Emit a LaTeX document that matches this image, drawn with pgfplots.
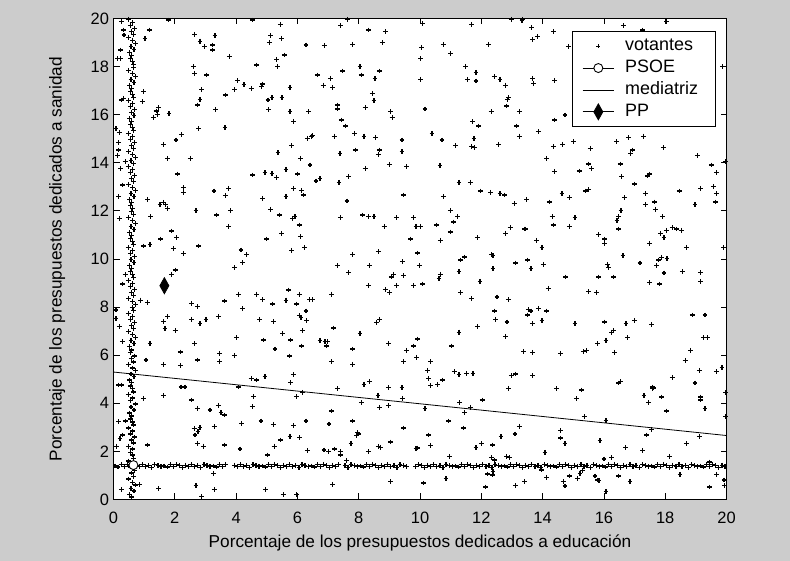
\documentclass[border=0pt]{standalone}
\usepackage{pgfplots}
\pgfplotsset{compat=1.18}
\usepackage{fontspec}
\setmainfont{Liberation Sans}
\definecolor{figgray}{RGB}{204,204,204}
\pgfplotsset{
  legvot/.style={legend image code/.code={\draw[##1] plot[mark=+, mark size=2bp] coordinates {(15.8bp,0bp)};}},
  legmark/.style={legend image code/.code={\draw[##1] plot[mark repeat=2, mark phase=2] coordinates {(0bp,0bp) (15.8bp,0bp) (31.6bp,0bp)};}},
  legline/.style={legend image code/.code={\draw[##1] (0bp,0bp) -- (31.6bp,0bp);}},
}
\begin{document}
\begin{tikzpicture}[font=\fontsize{16.5}{19}\selectfont]
\fill[figgray] (0,0) rectangle (790bp,561bp);
\begin{axis}[
  scale only axis,
  width=613bp, height=481bp,
  at={(113.5bp,61.5bp)}, anchor=south west,
  xmin=0, xmax=20, ymin=0, ymax=20,
  xtick={0,2,...,20}, ytick={0,2,...,20},
  tick align=inside, tick pos=both,
  major tick length=6bp,
  axis line style={line width=0.8bp},
  every tick/.style={black, line width=0.8bp},
  axis background/.style={fill=white},
  /pgf/number format/assume math mode=true,
  tick label style={font=\fontsize{16.5}{19}\selectfont},
  xticklabel style={yshift=-9bp},
  yticklabel style={xshift=-1bp},
  xlabel={Porcentaje de los presupuestos dedicados a educación},
  ylabel={Porcentaje de los presupuestos dedicados a sanidad},
  label style={font=\fontsize{17.3}{20}\selectfont},
  xlabel style={at={(axis description cs:0.5,-0.1008)}, anchor=base},
  ylabel style={at={(axis description cs:-0.0920,0.5)}, anchor=center},
  legend style={at={(axis description cs:0.7485,0.974)}, anchor=north west,
    draw=black, line width=0.8bp, fill=white, inner xsep=9.4bp, inner ysep=6.5bp,
    row sep=5.4bp, column sep=10.7bp,
    nodes={inner sep=0bp, text height=13bp, text depth=3.5bp},
    font=\fontsize{18}{21}\selectfont},
  legend cell align=left,
]
% votantes
\addplot[only marks, mark=+, mark size=2.4bp, line width=1.2bp, black, legvot]
coordinates {
(0.27,19.87)(0.32,19.52)(0.34,19.31)(0.23,18.69)(0.13,18.34)(0.23,18.34)(0.32,16.68)(0.27,16.61)
(0.08,15.43)(0.19,15.25)(0.16,14.84)(0.16,14.53)(0.13,14.30)(0.23,13.77)(0.38,14.05)
(1.17,19.52)(1.03,19.18)(1.79,19.94)(2.64,19.34)(2.82,19.06)(2.96,18.83)(3.24,18.90)(3.24,18.69)
(3.31,19.29)(3.78,18.41)(4.67,18.07)(2.60,18.00)(2.64,17.72)(3.04,17.65)(4.05,17.42)(3.96,17.05)
(4.26,17.24)(4.49,17.10)(4.86,17.28)(4.83,17.16)(5.04,16.61)(5.17,16.71)(5.50,16.71)(2.88,17.05)
(2.82,16.64)(2.74,16.40)(3.33,16.22)(3.65,16.82)(0.97,16.96)(0.94,16.54)(1.46,16.29)(1.39,16.15)
(1.43,16.01)(1.30,15.89)(1.81,16.05)(2.78,15.43)(3.64,15.47)(2.22,15.18)(2.04,14.95)(1.63,14.77)
(1.77,14.19)(2.50,14.19)(2.08,13.53)(4.54,13.49)(4.94,13.60)(5.17,13.56)(5.32,13.38)(5.63,13.73)
(6.01,13.53)(5.37,14.42)(5.82,14.71)(6.09,14.19)(6.41,13.91)(6.32,15.02)(6.48,15.12)(5.76,16.13)
(5.87,15.71)(6.36,16.13)(5.05,16.20)(5.13,19.29)(5.08,19.01)(5.49,19.18)(5.44,19.76)(5.57,18.48)
(5.32,18.30)(5.36,18.00)(5.76,17.14)(6.28,18.90)(4.53,19.94)
(7.63,19.97)(7.41,19.70)(8.31,19.52)(8.87,19.45)(6.88,18.87)(7.80,18.93)(8.77,19.00)(10.08,19.80)
(10.06,18.80)(10.02,18.34)(10.76,18.93)(11.00,18.53)(11.68,19.76)(12.23,18.93)(11.49,18.00)
(11.83,17.76)(11.54,17.47)(11.83,17.40)(12.42,17.58)(12.61,17.47)(12.78,17.23)(12.85,16.64)
(12.88,16.71)(12.83,16.36)(12.32,16.13)(13.24,16.13)(13.16,15.53)(13.24,15.11)(12.56,14.77)
(11.72,15.71)(11.91,15.53)(11.76,15.02)(11.68,14.67)(11.78,14.62)(11.16,14.71)(10.72,14.95)
(10.39,15.23)(10.16,16.24)(10.02,17.47)(8.04,18.00)(7.48,17.82)(8.08,17.65)(8.67,17.82)(8.53,17.51)
(6.65,17.65)(7.07,17.51)(6.84,17.23)(7.15,17.12)(8.44,16.89)(8.50,16.58)(8.21,16.29)(7.30,16.40)
(7.30,16.24)(9.04,16.13)(9.09,15.88)(7.43,15.78)(7.58,15.53)(7.86,15.23)(8.17,15.11)(8.54,15.06)
(7.20,15.11)(6.47,15.11)(9.41,14.95)(9.41,14.46)(8.67,14.53)(8.64,14.35)(7.89,14.53)(7.39,14.39)
(9.00,13.94)(9.57,13.84)(8.21,13.77)(7.67,13.42)(6.74,13.35)(10.65,13.88)(12.98,19.97)(13.33,19.91)
(13.35,19.97)(13.64,19.63)(13.68,19.13)(13.83,19.24)(14.35,19.45)(14.84,18.83)(16.63,19.70)
(17.27,19.52)(18.05,19.87)(13.68,17.51)(13.70,17.30)(14.40,17.41)(19.88,18.00)(14.40,15.78)
(14.73,15.99)(13.86,15.29)(14.35,14.67)(14.65,14.77)(15.00,14.88)(15.55,14.60)(16.42,14.88)
(16.80,15.05)(17.29,15.11)(16.94,14.53)(16.88,14.39)(17.94,14.63)(19.05,14.30)(19.52,13.91)
(19.68,13.60)(19.98,14.05)(14.13,14.19)(14.38,13.63)(15.20,13.66)(15.49,13.95)(15.60,13.77)
(16.53,13.95)(16.58,13.42)(17.43,13.45)(17.48,13.53)
(0.30,13.08)(0.16,12.59)(0.19,11.69)(0.38,9.36)(0.30,8.96)(0.08,7.88)(0.08,7.53)(0.19,7.19)(0.29,6.56)
(0.97,10.54)(1.19,10.61)(1.11,12.48)(1.21,11.76)(0.89,8.29)(1.11,8.20)(1.52,12.27)(1.63,12.36)
(1.70,12.27)(1.77,12.11)(1.54,10.83)(1.90,11.16)(2.06,10.89)(1.95,10.42)(2.28,10.24)(1.90,9.36)
(2.01,9.54)(2.28,12.97)(2.28,12.77)(2.69,12.01)(2.77,10.54)(3.28,12.83)(3.75,12.94)(3.65,12.63)
(3.37,11.83)(3.83,12.01)(3.75,11.34)(4.16,10.37)(4.34,10.19)(4.21,9.85)(3.96,9.65)(4.07,8.54)
(3.62,8.25)(4.21,7.94)(2.55,8.16)(2.73,8.02)(2.55,7.49)(2.82,7.32)(3.02,7.49)(3.42,7.60)(1.63,7.39)
(1.77,7.60)(1.68,7.12)(2.01,7.02)(1.19,6.49)(2.64,6.49)(4.02,6.73)(4.67,8.54)(4.86,8.32)(5.18,8.13)
(5.63,8.29)(5.70,8.71)(6.06,8.54)(5.98,8.13)(6.39,8.32)(6.50,8.32)(6.28,7.84)(6.06,7.64)(6.12,7.57)
(6.30,7.44)(5.21,7.39)(4.76,7.49)(5.52,6.91)(4.89,6.63)(5.78,6.63)(6.16,7.02)(4.86,12.52)(5.13,12.07)
(5.41,11.83)(5.49,11.07)(5.00,10.83)(5.85,11.69)(5.92,11.76)(6.06,11.41)(6.09,10.93)(6.24,10.49)
(5.81,10.36)(5.87,12.94)(5.63,12.59)(6.14,12.84)(6.19,12.66)
(6.61,13.24)(7.36,13.19)(7.62,12.41)(7.40,11.72)(8.13,11.83)(8.31,11.77)(8.50,11.77)(8.83,11.36)
(9.24,11.72)(9.47,12.66)(9.80,11.72)(9.87,11.36)(10.02,11.36)(9.70,10.83)(10.53,11.41)(10.66,10.78)
(10.76,12.59)(10.99,12.01)(11.23,11.77)(11.09,11.54)(10.99,11.12)(11.27,13.19)(11.64,13.19)
(11.97,12.83)(12.30,12.77)(12.61,12.72)(12.75,12.66)(13.07,12.30)(13.40,11.25)(12.94,11.30)
(12.80,11.07)(11.87,10.89)(7.80,10.19)(8.64,10.30)(7.30,9.72)(7.67,9.43)(8.36,9.72)(9.42,9.90)
(9.92,10.25)(9.98,9.72)(9.47,9.31)(9.14,9.36)(9.06,9.25)(9.24,8.89)(9.80,8.89)(10.08,8.96)(8.87,8.72)
(9.01,8.60)(8.31,8.89)(7.12,8.54)(10.66,9.36)(10.62,9.19)(11.27,9.47)(11.32,9.96)(11.46,10.08)
(12.34,10.19)(12.38,10.14)(12.38,9.60)(13.11,9.83)(11.96,9.07)(11.32,8.60)(11.69,8.36)(12.51,8.42)
(12.88,8.31)(12.43,7.84)(12.47,7.49)(12.84,7.38)(12.80,6.77)(11.87,7.19)(11.27,6.96)(9.92,6.67)
(8.68,7.49)(8.59,7.37)(7.18,7.13)(8.04,6.91)(6.74,6.62)(6.90,6.56)(6.98,6.56)(8.97,6.49)
(16.99,13.12)(15.49,12.89)(15.41,12.83)(14.63,12.72)(14.87,12.55)(14.22,12.37)(13.48,12.48)
(14.31,11.77)(14.35,11.41)(14.87,11.36)(15.06,11.72)(16.67,12.55)(16.56,12.01)(16.48,11.77)
(16.43,11.59)(16.48,11.25)(17.35,12.72)(17.35,12.25)(17.64,12.37)(17.68,12.07)(17.91,11.77)
(18.46,12.83)(19.16,12.94)(19.57,13.00)(19.67,12.72)(19.63,12.37)(18.97,12.25)(13.43,11.25)
(13.81,10.78)(13.98,10.49)(15.83,11.01)(16.03,10.83)(16.03,10.65)(17.85,11.07)(17.96,10.89)
(18.05,11.19)(18.23,11.30)(18.37,11.25)(18.52,11.19)(17.49,10.65)(18.69,10.49)(19.90,10.49)
(13.52,9.96)(13.62,9.60)(14.02,9.78)(16.62,10.14)(17.18,9.83)(16.13,9.78)(16.16,9.65)(17.72,9.72)
(17.78,9.96)(17.87,10.07)(18.06,10.01)(17.96,9.42)(18.56,9.49)(19.15,9.43)(19.16,9.07)(17.50,9.02)
(17.82,8.96)(14.76,9.25)(15.83,9.25)(16.31,9.25)(14.18,8.78)(15.50,8.65)(15.75,8.60)(13.53,7.89)
(13.62,7.84)(13.52,7.67)(13.86,7.95)(14.13,7.84)(13.66,7.31)(13.98,7.44)(15.06,7.31)(16.01,7.38)
(16.30,7.02)(16.25,6.96)(16.72,7.31)(16.99,7.44)(17.56,7.26)(16.77,6.73)(16.07,6.62)(15.79,6.49)
(18.88,7.67)(19.30,7.67)(19.24,6.73)(19.39,6.73)
(5.27,6.26)(6.14,6.38)(1.06,5.80)(1.63,5.62)(2.18,6.13)(2.18,5.56)(2.73,5.80)(3.47,6.08)(3.47,5.73)
(3.96,5.98)(0.16,4.76)(0.27,4.76)(0.97,4.21)(1.63,4.32)(2.20,4.68)(2.33,4.68)(2.55,4.14)(2.73,3.79)
(3.15,3.72)(3.42,3.92)(3.51,3.62)(3.62,3.51)(3.29,3.03)(2.82,2.99)(2.63,2.96)(2.76,2.82)(2.66,2.68)
(2.73,2.34)(2.93,2.22)(3.62,2.27)(4.13,2.10)(4.18,3.17)(4.56,4.28)(4.53,3.86)(4.49,5.04)(4.67,4.97)
(4.94,5.11)(4.07,4.68)(5.74,5.97)(5.87,5.20)(5.78,4.86)(5.96,4.28)(6.17,4.46)(4.81,3.26)(5.21,3.13)
(5.87,3.08)(6.28,3.26)(6.08,2.57)(5.76,2.63)(5.45,2.47)(5.24,2.22)(5.03,1.85)(6.32,2.03)(1.11,2.27)
(0.16,3.24)(0.38,3.26)(0.21,2.54)(0.10,2.22)(0.29,2.68)(0.84,0.63)(1.48,0.46)(2.69,0.58)(2.88,0.12)
(3.29,0.40)(4.96,0.40)(5.54,0.21)(5.98,0.21)(3.26,1.09)(0.27,0.40)
(6.95,6.38)(7.80,6.26)(7.12,5.73)(7.80,5.62)(9.57,6.20)(9.80,6.38)(9.89,5.91)(9.47,5.73)(10.34,5.73)
(10.25,5.37)(10.29,5.02)(10.35,4.73)(10.58,4.79)(10.73,4.97)(11.04,6.38)(11.12,5.32)(11.27,5.20)
(11.52,5.25)(11.73,5.25)(13.38,6.15)(12.98,5.15)(13.11,5.22)(12.88,4.62)(12.03,4.14)(11.30,4.03)
(11.45,3.61)(11.66,3.83)(10.16,3.79)(9.41,4.66)(9.42,4.21)(8.98,4.66)(8.67,3.83)(8.97,3.92)(8.63,4.33)
(8.17,4.79)(8.36,4.91)(8.08,4.03)(7.30,4.61)(7.12,3.68)(7.03,3.14)(7.80,3.26)(7.97,2.78)(8.00,2.72)
(7.94,2.65)(7.75,2.34)(8.64,2.21)(8.70,2.17)(8.31,1.98)(9.04,2.39)(9.47,2.97)(10.28,2.68)(10.34,2.25)
(9.87,2.11)(9.92,2.14)(10.94,3.26)(11.41,2.97)(10.96,1.79)(11.83,2.16)(12.00,2.32)(12.37,2.27)
(12.64,2.61)(13.10,2.72)(13.24,3.04)(12.33,1.75)(12.43,1.64)(12.83,1.79)(12.91,1.75)(7.61,1.61)
(6.87,2.06)(7.02,1.98)(7.21,2.10)(7.40,1.98)(7.40,1.85)(7.15,0.63)(9.05,0.74)(10.12,0.69)(10.85,0.87)
(12.14,0.52)(13.11,0.58)(13.41,0.74)(12.38,1.16)(12.20,1.06)(12.37,1.02)
(13.67,6.12)(14.59,6.08)(15.33,6.15)(15.42,6.19)(16.35,6.12)(13.67,5.15)(14.45,4.61)(15.28,4.55)
(15.10,4.19)(16.48,4.84)(16.53,4.91)(17.59,4.68)(17.59,4.61)(17.62,4.64)(17.31,4.32)(17.46,4.03)
(17.88,4.26)(18.05,3.68)(18.23,5.08)(18.65,5.79)(18.83,6.20)(19.11,5.37)(18.97,4.84)(19.16,4.26)
(19.16,4.14)(19.30,3.79)(19.67,5.32)(19.85,5.50)(19.98,4.44)(19.98,3.44)(15.36,3.44)(16.07,3.28)
(14.59,2.86)(14.59,2.56)(14.73,2.32)(15.87,2.45)(16.71,2.16)(17.27,2.03)(17.40,2.68)(17.55,2.92)
(18.14,1.79)(18.69,2.32)(19.11,2.61)(14.08,1.96)(16.00,1.68)(16.25,1.74)(14.13,0.92)(13.97,1.23)
(14.87,0.98)(14.67,0.74)(14.73,0.56)(15.13,0.87)(15.22,1.09)(15.29,1.19)(15.71,0.98)(15.79,0.81)
(15.84,0.78)(16.48,0.98)(16.85,0.74)(18.48,1.03)(19.45,1.56)(19.68,1.05)(19.92,0.81)(19.94,0.59)
(19.44,0.52)(16.07,0.33)
(0.60,0.10)(0.53,0.22)(0.67,0.35)(0.57,0.47)(0.71,0.60)(0.62,0.72)(0.50,0.85)(0.65,0.97)(0.58,1.10)(0.69,1.22)(0.55,1.35)(0.63,1.47)(0.48,1.60)(0.66,1.72)(0.61,1.85)(0.56,1.97)
(0.62,2.10)(0.50,2.22)(0.65,2.35)(0.58,2.47)(0.69,2.60)(0.55,2.72)(0.63,2.85)(0.48,2.97)(0.66,3.10)(0.61,3.22)(0.56,3.35)(0.60,3.47)(0.53,3.60)(0.67,3.72)(0.57,3.85)(0.71,3.97)
(0.55,4.10)(0.63,4.22)(0.48,4.35)(0.66,4.47)(0.61,4.60)(0.56,4.72)(0.60,4.85)(0.53,4.97)(0.67,5.10)(0.57,5.22)(0.71,5.35)(0.62,5.47)(0.50,5.60)(0.65,5.72)(0.58,5.85)(0.69,5.97)
(0.56,6.10)(0.60,6.22)(0.53,6.35)(0.67,6.47)(0.57,6.60)(0.71,6.72)(0.62,6.85)(0.50,6.97)(0.65,7.10)(0.58,7.22)(0.69,7.35)(0.55,7.47)(0.63,7.60)(0.48,7.72)(0.66,7.85)(0.61,7.97)
(0.71,8.10)(0.62,8.22)(0.50,8.35)(0.65,8.47)(0.58,8.60)(0.69,8.72)(0.55,8.85)(0.63,8.97)(0.48,9.10)(0.66,9.22)(0.61,9.35)(0.56,9.47)(0.60,9.60)(0.53,9.72)(0.67,9.85)(0.57,9.97)
(0.69,10.10)(0.55,10.22)(0.63,10.35)(0.48,10.47)(0.66,10.60)(0.61,10.72)(0.56,10.85)(0.60,10.97)(0.53,11.10)(0.67,11.22)(0.57,11.35)(0.71,11.47)(0.62,11.60)(0.50,11.72)(0.65,11.85)(0.58,11.97)
(0.61,12.10)(0.56,12.22)(0.60,12.35)(0.53,12.47)(0.67,12.60)(0.57,12.72)(0.71,12.85)(0.62,12.97)(0.50,13.10)(0.65,13.22)(0.58,13.35)(0.69,13.47)(0.55,13.60)(0.63,13.72)(0.48,13.85)(0.66,13.97)
(0.57,14.10)(0.71,14.22)(0.62,14.35)(0.50,14.47)(0.65,14.60)(0.58,14.72)(0.69,14.85)(0.55,14.97)(0.63,15.10)(0.48,15.22)(0.66,15.35)(0.61,15.47)(0.56,15.60)(0.60,15.72)(0.53,15.85)(0.67,15.97)
(0.58,16.10)(0.69,16.22)(0.55,16.35)(0.63,16.47)(0.48,16.60)(0.66,16.72)(0.61,16.85)(0.56,16.97)(0.60,17.10)(0.53,17.22)(0.67,17.35)(0.57,17.47)(0.71,17.60)(0.62,17.72)(0.50,17.85)(0.65,17.97)
(0.66,18.10)(0.61,18.22)(0.56,18.35)(0.60,18.47)(0.53,18.60)(0.67,18.72)(0.57,18.85)(0.71,18.97)(0.62,19.10)(0.50,19.22)(0.65,19.35)(0.58,19.47)(0.69,19.60)(0.55,19.72)(0.63,19.85)(0.48,19.97)
(0.05,1.39)(0.15,1.35)(0.25,1.44)(0.35,1.37)(0.45,1.46)(0.55,1.41)(0.65,1.33)(0.75,1.43)(0.85,1.38)(0.95,1.45)(1.05,1.36)(1.15,1.42)(1.25,1.32)(1.35,1.44)(1.45,1.40)(1.55,1.36)
(1.65,1.39)(1.75,1.35)(1.85,1.44)(1.95,1.37)(2.05,1.46)(2.15,1.41)(2.25,1.33)(2.35,1.43)(2.45,1.38)(2.55,1.45)(2.65,1.36)(2.75,1.42)(2.85,1.32)(2.95,1.44)(3.05,1.40)(3.15,1.36)
(3.25,1.39)(3.35,1.35)(3.45,1.44)(3.55,1.37)(3.65,1.46)(3.95,1.43)(4.05,1.38)(4.15,1.45)(4.25,1.36)(4.35,1.42)(4.45,1.32)(4.55,1.44)(4.65,1.40)(4.75,1.36)
(4.85,1.39)(4.95,1.35)(5.05,1.44)(5.15,1.37)(5.25,1.46)(5.35,1.41)(5.45,1.33)(5.55,1.43)(5.65,1.38)(5.75,1.45)(5.85,1.36)(5.95,1.42)(6.05,1.32)(6.15,1.44)(6.25,1.40)(6.35,1.36)
(6.45,1.39)(6.55,1.35)(6.65,1.44)(6.75,1.37)(6.85,1.46)(6.95,1.41)(7.05,1.33)(7.15,1.43)(7.25,1.38)(7.35,1.45)(7.55,1.42)(7.65,1.32)(7.75,1.44)(7.85,1.40)(7.95,1.36)
(8.05,1.39)(8.15,1.35)(8.25,1.44)(8.35,1.37)(8.45,1.46)(8.55,1.41)(8.65,1.33)(8.75,1.43)(8.85,1.38)(8.95,1.45)(9.05,1.36)(9.15,1.42)(9.25,1.32)(9.35,1.44)(9.45,1.40)(9.55,1.36)
(9.85,1.37)(9.95,1.46)(10.05,1.41)(10.15,1.33)(10.25,1.43)(10.35,1.38)(10.45,1.45)(10.55,1.36)(10.65,1.42)(10.75,1.32)(10.85,1.44)(10.95,1.40)(11.05,1.36)
(11.15,1.39)(11.25,1.35)(11.35,1.44)(11.45,1.37)(11.55,1.46)(11.65,1.41)(11.75,1.33)(11.85,1.43)(11.95,1.38)(12.05,1.45)(12.15,1.36)(12.25,1.42)(12.35,1.32)(12.45,1.44)(12.55,1.40)(12.65,1.36)
(12.75,1.39)(12.85,1.35)(12.95,1.44)(13.05,1.37)(13.15,1.46)(13.25,1.41)(13.35,1.33)(13.45,1.43)(13.55,1.38)(13.65,1.45)(13.75,1.36)(13.85,1.42)(13.95,1.32)(14.05,1.44)(14.15,1.40)(14.25,1.36)
(14.35,1.39)(14.45,1.35)(14.55,1.44)(14.65,1.37)(14.75,1.46)(14.85,1.41)(14.95,1.33)(15.05,1.43)(15.15,1.38)(15.25,1.45)(15.35,1.36)(15.45,1.42)(15.55,1.32)(15.65,1.44)(15.75,1.40)(15.85,1.36)
(15.95,1.39)(16.05,1.35)(16.15,1.44)(16.25,1.37)(16.35,1.46)(16.45,1.41)(16.55,1.33)(16.65,1.43)(16.75,1.38)(16.85,1.45)(16.95,1.36)(17.05,1.42)(17.15,1.32)(17.25,1.44)(17.35,1.40)(17.45,1.36)
(17.55,1.39)(17.65,1.35)(17.75,1.44)(17.85,1.37)(17.95,1.46)(18.05,1.41)(18.15,1.33)(18.25,1.43)(18.35,1.38)(18.45,1.45)(18.55,1.36)(18.65,1.42)(18.75,1.32)(18.85,1.44)(18.95,1.40)(19.05,1.36)
(19.15,1.39)(19.25,1.35)(19.35,1.44)(19.45,1.37)(19.55,1.46)(19.65,1.41)(19.75,1.33)(19.85,1.43)(19.95,1.38)
};
\addlegendentry{votantes\hspace*{8bp}}
% PSOE
\addplot[black, line width=0.8bp, mark=*, mark size=4.5bp, mark options={fill=white, line width=0.9bp}, legmark]
coordinates {(0.65,1.43)};
\addlegendentry{PSOE}
% mediatriz
\addplot[black, line width=0.8bp, no marks, legline]
coordinates {(0,5.30) (20,2.66)};
\addlegendentry{mediatriz\hspace*{8bp}}
% PP
\addplot[black, line width=0.8bp, mark=diamond*, mark size=8bp, mark options={fill=black, xscale=0.75}, legmark]
coordinates {(1.66,8.89)};
\addlegendentry{PP}
\end{axis}
\pgfresetboundingbox
\path (0,0) rectangle (790bp,561bp);
\end{tikzpicture}
\end{document}
